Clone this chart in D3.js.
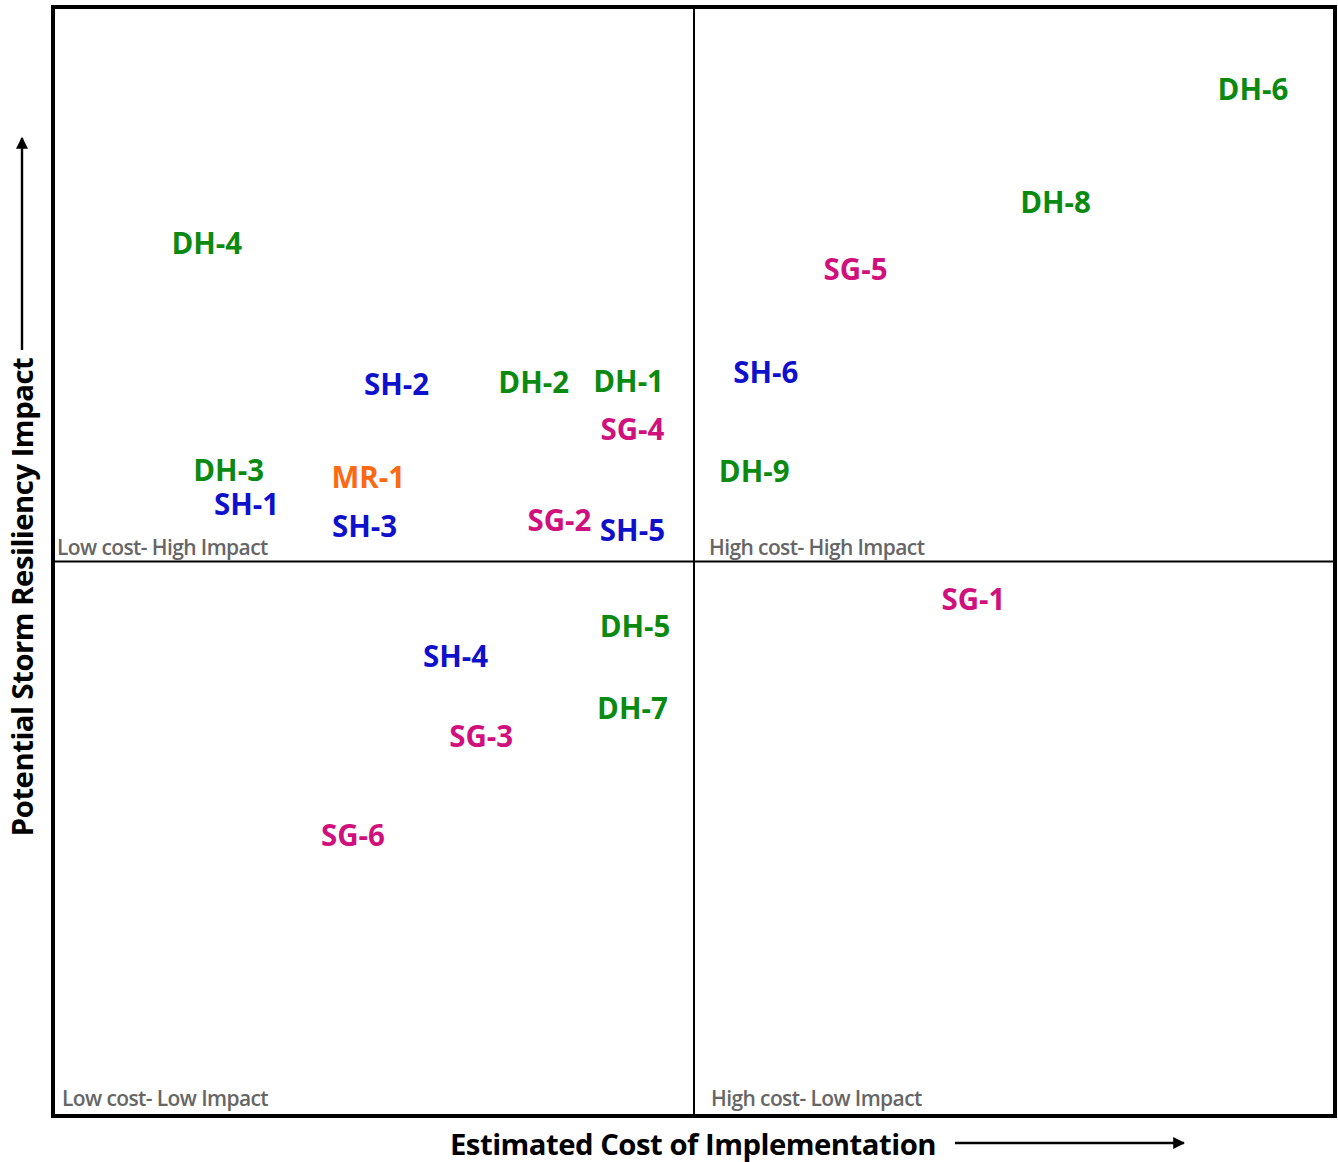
<!DOCTYPE html>
<html>
<head>
<meta charset="utf-8">
<script src="https://cdn.jsdelivr.net/npm/d3@7"></script>
<style>
  html, body { margin: 0; padding: 0; background: #fff; }
  svg { display: block; }
</style>
</head>
<body>
<svg id="chart" width="1338" height="1162"></svg>
<script>
// Measures placed on a cost (x) vs. impact (y) grid, both on a 0–100 scale
const measures = ["DH-6", "DH-8", "SG-5", "DH-4", "SH-6", "SH-2", "DH-2", "DH-1", "SG-4", "DH-3", "MR-1",
                  "DH-9", "SH-1", "SH-3", "SG-2", "SH-5", "SG-1", "DH-5", "SH-4", "DH-7", "SG-3", "SG-6"];
const costValues = [93.6, 78.2, 62.6, 12.0, 55.6, 26.8, 37.5, 44.9, 45.2, 13.7, 24.6,
                    54.7, 15.1, 24.3, 39.5, 45.2, 71.8, 45.4, 31.4, 45.2, 33.4, 23.4];
const impactValues = [92.6, 82.4, 76.3, 78.7, 67.0, 66.0, 66.1, 66.2, 61.9, 58.2, 57.6,
                      58.1, 55.1, 53.2, 53.7, 52.8, 46.6, 44.1, 41.4, 36.7, 34.2, 25.3];
const groups = ["DH", "SG", "SH", "MR"];
const groupColors = ["#0b8a12", "#d0107c", "#0f10cc", "#fb6a12"];
const quadrantNames = ["Low cost- High Impact", "High cost- High Impact", "Low cost- Low Impact", "High cost- Low Impact"];
const axisTitles = ["Estimated Cost of Implementation", "Potential Storm Resiliency Impact"];

const svg = d3.select("#chart");
const plotLeft = 53, plotRight = 1335, plotTop = 7, plotBottom = 1116;

const x = d3.scaleLinear().domain([0, 100]).range([plotLeft, plotRight]);
const y = d3.scaleLinear().domain([0, 100]).range([plotBottom, plotTop]);
const color = d3.scaleOrdinal().domain(groups).range(groupColors);

// quadrant dividers
svg.append("line").attr("x1", x(50)).attr("x2", x(50)).attr("y1", y(100)).attr("y2", y(0))
  .attr("stroke", "#000").attr("stroke-width", 2);
svg.append("line").attr("x1", x(0)).attr("x2", x(100)).attr("y1", y(50)).attr("y2", y(50))
  .attr("stroke", "#000").attr("stroke-width", 2);

// outer frame
svg.append("rect").attr("x", x(0)).attr("y", y(100))
  .attr("width", x(100) - x(0)).attr("height", y(0) - y(100))
  .attr("fill", "none").attr("stroke", "#000").attr("stroke-width", 4);

// quadrant captions
const qx = [x(0) + 4, x(50) + 15, x(0) + 9, x(50) + 17];
const qy = [y(50) - 15, y(50) - 15, y(0) - 18, y(0) - 18];
svg.selectAll("text.quad").data(quadrantNames).join("text")
  .attr("class", "quad")
  .attr("x", (d, i) => qx[i]).attr("y", (d, i) => qy[i])
  .attr("dominant-baseline", "central")
  .attr("font-family", "'Open Sans', sans-serif")
  .attr("font-weight", 600).attr("font-size", 21)
  .attr("letter-spacing", -0.6)
  .attr("fill", "#666")
  .text(d => d);

// measure labels
svg.selectAll("text.measure").data(measures).join("text")
  .attr("class", "measure")
  .attr("x", (d, i) => x(costValues[i]))
  .attr("y", (d, i) => y(impactValues[i]) - 1)
  .attr("text-anchor", "middle")
  .attr("dominant-baseline", "central")
  .attr("font-family", "'Open Sans', sans-serif")
  .attr("font-weight", 700).attr("font-size", 29.5)
  .attr("fill", d => color(d.split("-")[0]))
  .text(d => d);

// arrow head marker
const defs = svg.append("defs");
defs.append("marker").attr("id", "arrow")
  .attr("viewBox", "0 0 10 10").attr("refX", 9).attr("refY", 5)
  .attr("markerWidth", 5).attr("markerHeight", 5).attr("orient", "auto")
  .append("path").attr("d", "M0,0L10,5L0,10Z").attr("fill", "#000");

// x-axis title + arrow
svg.append("text").attr("x", 693).attr("y", 1144)
  .attr("text-anchor", "middle").attr("dominant-baseline", "central")
  .attr("font-family", "'Open Sans', sans-serif").attr("font-weight", 700)
  .attr("font-size", 29.3).attr("letter-spacing", -0.5).attr("fill", "#000")
  .text(axisTitles[0]);
svg.append("line").attr("x1", 955).attr("x2", 1184).attr("y1", 1143).attr("y2", 1143)
  .attr("stroke", "#000").attr("stroke-width", 2.4).attr("marker-end", "url(#arrow)");

// y-axis title + arrow
svg.append("text").attr("transform", "translate(22,597) rotate(-90)")
  .attr("text-anchor", "middle").attr("dominant-baseline", "central")
  .attr("font-family", "'Open Sans', sans-serif").attr("font-weight", 700)
  .attr("font-size", 29.3).attr("letter-spacing", -0.5).attr("fill", "#000")
  .text(axisTitles[1]);
svg.append("line").attr("x1", 22).attr("x2", 22).attr("y1", 350).attr("y2", 138)
  .attr("stroke", "#000").attr("stroke-width", 2.4).attr("marker-end", "url(#arrow)");
</script>
</body>
</html>
